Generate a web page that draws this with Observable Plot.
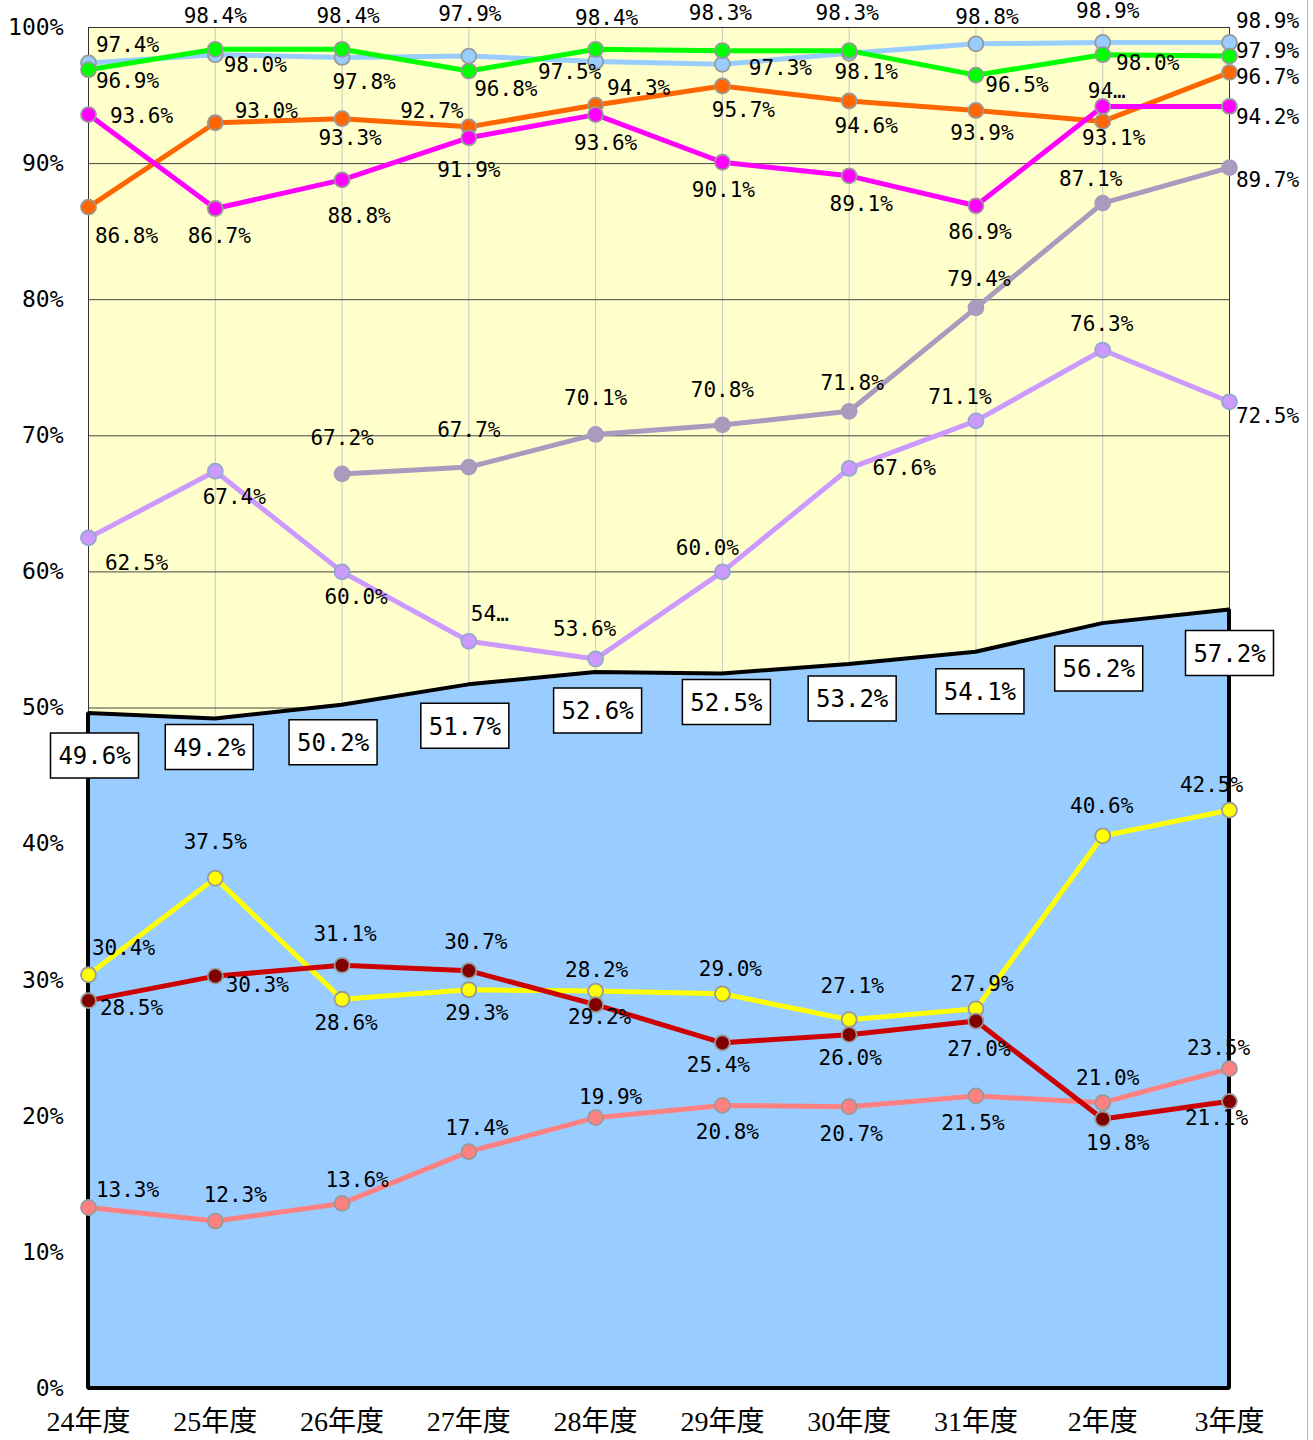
<!DOCTYPE html>
<html><head><meta charset="utf-8">
<script src="https://cdn.jsdelivr.net/npm/d3@7"></script>
<script src="https://cdn.jsdelivr.net/npm/@observablehq/plot@0.6"></script>
<style>
html,body{margin:0;padding:0;background:#fff;}
#wrap{position:relative;width:1313px;height:1440px;}
#edge{position:absolute;left:1307px;top:0;width:1px;height:1440px;background:#b4b4b4;}
</style></head>
<body><div id="wrap"><div id="chart"></div><div id="edge"></div></div>
<script>
// ---- data ----
const years = ["24年度","25年度","26年度","27年度","28年度","29年度","30年度","31年度","2年度","3年度"];
const yTicks = [0,10,20,30,40,50,60,70,80,90,100];
const seriesLightBlue = [97.4, 98.0, 97.8, 97.9, 97.5, 97.3, 98.1, 98.8, 98.9, 98.9];
const seriesGreen     = [96.9, 98.4, 98.4, 96.8, 98.4, 98.3, 98.3, 96.5, 98.0, 97.9];
const seriesOrange    = [86.8, 93.0, 93.3, 92.7, 94.3, 95.7, 94.6, 93.9, 93.1, 96.7];
const seriesMagenta   = [93.6, 86.7, 88.8, 91.9, 93.6, 90.1, 89.1, 86.9, 94.2, 94.2];
const seriesGrayPurple= [null, null, 67.2, 67.7, 70.1, 70.8, 71.8, 79.4, 87.1, 89.7];
const seriesLavender  = [62.5, 67.4, 60.0, 54.9, 53.6, 60.0, 67.6, 71.1, 76.3, 72.5];
const seriesOverall   = [49.6, 49.2, 50.2, 51.7, 52.6, 52.5, 53.2, 54.1, 56.2, 57.2];
const seriesYellow    = [30.4, 37.5, 28.6, 29.3, 29.2, 29.0, 27.1, 27.9, 40.6, 42.5];
const seriesDarkRed   = [28.5, 30.3, 31.1, 30.7, 28.2, 25.4, 26.0, 27.0, 19.8, 21.1];
const seriesSalmon    = [13.3, 12.3, 13.6, 17.4, 19.9, 20.8, 20.7, 21.5, 21.0, 23.5];

// ---- label layout (pixel nudges, style only) ----
const nudgeLightBlue = [[39,-18],[40,11],[22,25],[1,-42],[-26,11],[58,4],[17,19],[11,-27],[5,-31],[38,-21]];
const nudgeGreen     = [[39,12],[0,-33],[6,-33],[37,18],[11,-31],[-2,-37],[-2,-37],[41,10],[45,9],[38,-5]];
const nudgeOrange    = [[38,29],[51,-12],[8,20],[-37,-16],[43,-17],[21,24],[17,25],[6,23],[11,17],[38,5]];
const nudgeMagenta   = [[53,2],[4,28],[17,36],[0,33],[10,29],[1,28],[12,28],[4,26],[4,-15],[38,11]];
const nudgeGrayPurple= [null,null,[0,-36],[0,-37],[0,-36],[0,-35],[3,-28],[3,-29],[-12,-24],[38,13]];
const nudgeLavender  = [[48,25],[19,26],[14,25],[21,-27],[-11,-30],[-15,-24],[55,0],[-16,-24],[-1,-26],[38,14]];
const nudgeOverall   = [[6,42],[-6,28],[-9,37],[-4,41],[2,38],[4,28],[3,34],[4,39],[-4,45],[0,43]];
const nudgeYellow    = [[35,-26],[0,-36],[4,24],[8,24],[4,26],[8,-25],[3,-33],[6,-25],[-1,-30],[-18,-25]];
const nudgeDarkRed   = [[43,8],[42,9],[3,-31],[7,-28],[1,-34],[-4,22],[1,24],[3,28],[15,24],[-13,17]];
const nudgeSalmon    = [[39,-17],[20,-26],[15,-23],[8,-23],[15,-20],[5,27],[2,27],[-3,27],[5,-24],[-11,-20]];

const MONO = "'DejaVu Sans Mono', 'Liberation Mono', monospace";
const SERIF = "'Liberation Serif', 'DejaVu Serif', 'Noto Sans CJK JP', serif";

function table(values){ return years.map((year,i)=>({year, v: values[i], i})).filter(d=>d.v!=null); }
const fmt = v => d3.format(".1f")(v) + "%";

function seriesMarks(values, line, dotFill, dotStroke){
  const data = table(values);
  return [
    Plot.line(data, {x:"year", y:"v", stroke: line, strokeWidth: 5}),
    Plot.dot(data, {x:"year", y:"v", r: 7.5, fill: dotFill, stroke: dotStroke, strokeWidth: 1.8})
  ];
}
function labelMarks(values, nudges, truncated = []){
  const marks = [];
  table(values).forEach(d => {
    const [dx, dy] = nudges[d.i];
    const s = fmt(d.v);
    const text = truncated.includes(d.i) ? s.slice(0,2) + "…" : s;
    marks.push(Plot.text([d], {x:"year", y:"v", text: () => text, dx, dy,
      fontSize: 21, fontFamily: MONO, fill: "black"}));
  });
  return marks;
}
const boxSymbol = { draw(ctx){ ctx.rect(-44, -22.5, 88, 45); } };
function boxMarks(values, nudges){
  const marks = [];
  table(values).forEach(d => {
    const [dx, dy] = nudges[d.i];
    marks.push(Plot.dot([d], {x:"year", y:"v", dx, dy, symbol: boxSymbol, r: 10,
      fill: "white", stroke: "black", strokeWidth: 1.5}));
    marks.push(Plot.text([d], {x:"year", y:"v", text: dd => fmt(dd.v), dx, dy: dy + 1,
      fontSize: 24, fontFamily: MONO, fill: "black"}));
  });
  return marks;
}

const chart = Plot.plot({
  width: 1313, height: 1440,
  marginLeft: 88, marginRight: 84, marginTop: 27, marginBottom: 52,
  style: {background: "white", fontFamily: MONO, color: "black", overflow: "visible"},
  x: {type: "point", domain: years, padding: 0, round: false, label: null},
  y: {domain: [0, 100], label: null},
  marks: [
    Plot.frame({fill: "#FFFFCC", stroke: null}),
    Plot.ruleX(years, {stroke: "#c8c8c8", strokeWidth: 1}),
    Plot.ruleY(yTicks.filter(t => t > 0 && t < 100), {stroke: "#444", strokeWidth: 1}),
    Plot.frame({stroke: "#333", strokeWidth: 1}),
    Plot.areaY(table(seriesOverall), {x:"year", y:"v", fill: "#99CCFF", stroke: "black", strokeWidth: 4, strokeLinejoin: "miter"}),
    Plot.axisY({ticks: yTicks, tickFormat: d => d + "%", tickSize: 0, tickPadding: 25, fontSize: 23, fontFamily: MONO, fill: "black", label: null}),
    Plot.axisX({tickSize: 0, tickPadding: 23, fontSize: 28, fontFamily: SERIF, fill: "black", label: null}),
    ...seriesMarks(seriesLightBlue, "#99CCFF", "#99CCFF", "#999"),
    ...seriesMarks(seriesGreen, "#00FF00", "#00FF00", "#999"),
    ...seriesMarks(seriesOrange, "#FF6600", "#FF6600", "#999"),
    ...seriesMarks(seriesMagenta, "#FF00FF", "#FF00FF", "#999"),
    ...seriesMarks(seriesGrayPurple, "#A99BBD", "#A99BBD", "#A99BBD"),
    ...seriesMarks(seriesLavender, "#CC99FF", "#CC99FF", "#8FAACC"),
    ...seriesMarks(seriesSalmon, "#FF8080", "#FF8080", "#999"),
    ...seriesMarks(seriesYellow, "#FFFF00", "#FFFF00", "#999"),
    ...seriesMarks(seriesDarkRed, "#CC0000", "#800000", "#999"),
    ...labelMarks(seriesLightBlue, nudgeLightBlue),
    ...labelMarks(seriesGreen, nudgeGreen),
    ...labelMarks(seriesOrange, nudgeOrange),
    ...labelMarks(seriesMagenta, nudgeMagenta, [8]),
    ...labelMarks(seriesGrayPurple, nudgeGrayPurple),
    ...labelMarks(seriesLavender, nudgeLavender, [3]),
    ...labelMarks(seriesYellow, nudgeYellow),
    ...labelMarks(seriesDarkRed, nudgeDarkRed),
    ...labelMarks(seriesSalmon, nudgeSalmon),
    ...boxMarks(seriesOverall, nudgeOverall)
  ]
});
document.getElementById("chart").appendChild(chart);
</script>
</body></html>
